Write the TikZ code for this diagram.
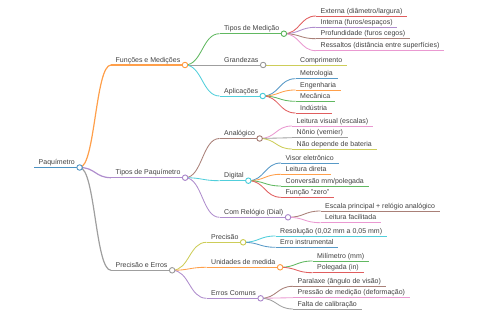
\documentclass[tikz,border=0pt]{standalone}
\usepackage{fontspec}
\setmainfont{Liberation Sans}
\usetikzlibrary{calc}
\definecolor{mmblue}{HTML}{1F77B4}
\definecolor{mmorange}{HTML}{FF7F0E}
\definecolor{mmgreen}{HTML}{2CA02C}
\definecolor{mmred}{HTML}{D62728}
\definecolor{mmpurple}{HTML}{9467BD}
\definecolor{mmbrown}{HTML}{8C564B}
\definecolor{mmpink}{HTML}{E377C2}
\definecolor{mmgray}{HTML}{7F7F7F}
\definecolor{mmolive}{HTML}{BCBD22}
\definecolor{mmcyan}{HTML}{17BECF}
\definecolor{mmtext}{HTML}{404040}
\newcommand{\mmlink}[3]{%
  \draw[#3] let \p1=(#1.south east), \p2=(#2.south west), \n1={0.5*(\x2-\x1)} in
    (\p1) .. controls +(\n1,0pt) and +(-\n1,0pt) .. (\p2);}

\begin{document}
\begin{tikzpicture}[
    x=1pt, y=-1pt,
    font=\fontsize{7}{8.4}\selectfont,
    lbl/.style={anchor=south west, text=mmtext, inner xsep=4.5pt, inner ysep=0.8pt, text height=5.2pt, text depth=1.7pt},
    mm/.style={lbl, append after command={(\tikzlastnode.south west) edge[draw=#1!75, line width=0.85pt] (\tikzlastnode.south east)}},
    mmmain/.style={lbl, append after command={(\tikzlastnode.south west) edge[draw=#1!75, line width=1.2pt] (\tikzlastnode.south east)}},
    mmroot/.style={lbl, append after command={(\tikzlastnode.south west) edge[draw=#1!80, line width=1.8pt] (\tikzlastnode.south east)}},
    link/.style={draw=#1!75, line width=0.85pt},
    knob/.style={circle, draw=#1!80, fill=white, line width=0.9pt, inner sep=0pt, minimum size=5.5pt},
]
\useasboundingbox (0,0) rectangle (480,320);

\node[mmroot=mmblue] (root) at (34,167.5) {Paquímetro};

\node[mmmain=mmorange] (fm) at (111,65)    {Funções e Medições};
\node[mmmain=mmpurple] (tp) at (111,177.7) {Tipos de Paquímetro};
\node[mmmain=mmgray]   (pe) at (111,270.3) {Precisão e Erros};

% Funções e Medições
\node[mm=mmgreen] (tm) at (219.5,33.7) {Tipos de Medição};
\node[mm=mmgray]  (gr) at (219.5,65)   {Grandezas};
\node[mm=mmcyan]  (ap) at (219.5,96)   {Aplicações};
\node[mm=mmred]    (ext)  at (316,16)   {Externa (diâmetro/largura)};
\node[mm=mmpurple] (int)  at (316,27.3) {Interna (furos/espaços)};
\node[mm=mmbrown]  (prof) at (316,38.7) {Profundidade (furos cegos)};
\node[mm=mmpink]   (res)  at (316,50.7) {Ressaltos (distância entre superfícies)};
\node[mm=mmolive]  (comp) at (295.5,65) {Comprimento};
\node[mm=mmblue]   (met)  at (295.5,78.7)  {Metrologia};
\node[mm=mmorange] (eng)  at (295.5,90)    {Engenharia};
\node[mm=mmgreen]  (mec)  at (295.5,101.3) {Mecânica};
\node[mm=mmred]    (ind)  at (295.5,113)   {Indústria};

% Tipos de Paquímetro
\node[mm=mmbrown]  (an) at (219.5,138.5) {Analógico};
\node[mm=mmcyan]   (dg) at (219.5,180.7) {Digital};
\node[mm=mmpurple] (cr) at (219.5,217.3) {Com Relógio (Dial)};
\node[mm=mmpink]   (lv)   at (292,126)   {Leitura visual (escalas)};
\node[mm=mmgray]   (non)  at (292,137.7) {Nônio (vernier)};
\node[mm=mmolive]  (bat)  at (292,149)   {Não depende de bateria};
\node[mm=mmblue]   (vis)  at (281,163)   {Visor eletrônico};
\node[mm=mmorange] (ld)   at (281,174.3) {Leitura direta};
\node[mm=mmgreen]  (conv) at (281,186)   {Conversão mm/polegada};
\node[mm=mmred]    (zero) at (281,197.3) {Função \symbol{34}zero\symbol{34}};
\node[mm=mmbrown]  (esc)  at (320.5,211)   {Escala principal + relógio analógico};
\node[mm=mmpink]   (lf)   at (320.5,222.7) {Leitura facilitada};

% Precisão e Erros
\node[mm=mmolive]  (pr) at (206.5,242.3) {Precisão};
\node[mm=mmorange] (um) at (206.5,267.3) {Unidades de medida};
\node[mm=mmpurple] (ec) at (206.5,298.3) {Erros Comuns};
\node[mm=mmcyan]   (resol) at (275.5,236)   {Resolução (0,02 mm a 0,05 mm)};
\node[mm=mmblue]   (ei)    at (275.5,247.3) {Erro instrumental};
\node[mm=mmgreen]  (mili)  at (312.5,261)   {Milímetro (mm)};
\node[mm=mmred]    (pol)   at (312.5,272.7) {Polegada (in)};
\node[mm=mmbrown]  (par)   at (293,286.3) {Paralaxe (ângulo de visão)};
\node[mm=mmpink]   (pres)  at (293,297.7) {Pressão de medição (deformação)};
\node[mm=mmgray]   (falta) at (293,309)   {Falta de calibração};

% links
\mmlink{root}{fm}{link=mmorange, line width=1.2pt}
\mmlink{root}{tp}{link=mmpurple, line width=1.2pt}
\mmlink{root}{pe}{link=mmgray, line width=1.2pt}
\mmlink{fm}{tm}{link=mmgreen}
\mmlink{fm}{gr}{link=mmgray}
\mmlink{fm}{ap}{link=mmcyan}
\mmlink{tm}{ext}{link=mmred}
\mmlink{tm}{int}{link=mmpurple}
\mmlink{tm}{prof}{link=mmbrown}
\mmlink{tm}{res}{link=mmpink}
\mmlink{gr}{comp}{link=mmolive}
\mmlink{ap}{met}{link=mmblue}
\mmlink{ap}{eng}{link=mmorange}
\mmlink{ap}{mec}{link=mmgreen}
\mmlink{ap}{ind}{link=mmred}
\mmlink{tp}{an}{link=mmbrown}
\mmlink{tp}{dg}{link=mmcyan}
\mmlink{tp}{cr}{link=mmpurple}
\mmlink{an}{lv}{link=mmpink}
\mmlink{an}{non}{link=mmgray}
\mmlink{an}{bat}{link=mmolive}
\mmlink{dg}{vis}{link=mmblue}
\mmlink{dg}{ld}{link=mmorange}
\mmlink{dg}{conv}{link=mmgreen}
\mmlink{dg}{zero}{link=mmred}
\mmlink{cr}{esc}{link=mmbrown}
\mmlink{cr}{lf}{link=mmpink}
\mmlink{pe}{pr}{link=mmolive}
\mmlink{pe}{um}{link=mmorange}
\mmlink{pe}{ec}{link=mmpurple}
\mmlink{pr}{resol}{link=mmcyan}
\mmlink{pr}{ei}{link=mmblue}
\mmlink{um}{mili}{link=mmgreen}
\mmlink{um}{pol}{link=mmred}
\mmlink{ec}{par}{link=mmbrown}
\mmlink{ec}{pres}{link=mmpink}
\mmlink{ec}{falta}{link=mmgray}

% knobs
\node[knob=mmblue]   (root-k) at (root.south east) {};
\node[knob=mmorange] (fm-k) at (fm.south east) {};
\node[knob=mmpurple] (tp-k) at (tp.south east) {};
\node[knob=mmgray]   (pe-k) at (pe.south east) {};
\node[knob=mmgreen]  (tm-k) at (tm.south east) {};
\node[knob=mmgray]   (gr-k) at (gr.south east) {};
\node[knob=mmcyan]   (ap-k) at (ap.south east) {};
\node[knob=mmbrown]  (an-k) at (an.south east) {};
\node[knob=mmcyan]   (dg-k) at (dg.south east) {};
\node[knob=mmpurple] (cr-k) at (cr.south east) {};
\node[knob=mmolive]  (pr-k) at (pr.south east) {};
\node[knob=mmorange] (um-k) at (um.south east) {};
\node[knob=mmpurple] (ec-k) at (ec.south east) {};
\end{tikzpicture}
\end{document}
